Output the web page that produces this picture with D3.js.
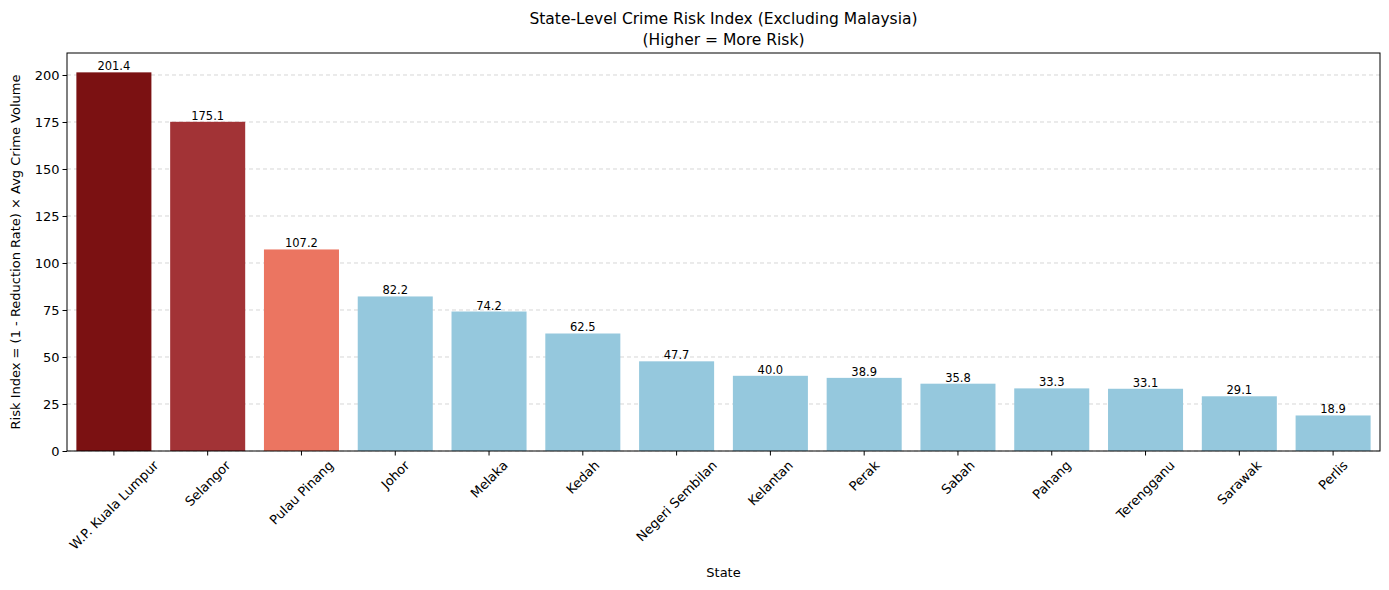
<!DOCTYPE html>
<html><head><meta charset="utf-8">
<script src="https://cdn.jsdelivr.net/npm/d3@7"></script>
<style>body{margin:0;background:#fff}text{font-family:"DejaVu Sans",sans-serif}</style>
</head><body><svg id="chart"></svg>
<script>
const states = ["W.P. Kuala Lumpur","Selangor","Pulau Pinang","Johor","Melaka","Kedah","Negeri Sembilan","Kelantan","Perak","Sabah","Pahang","Terengganu","Sarawak","Perlis"];
const riskIndex = [201.4,175.1,107.2,82.2,74.2,62.5,47.7,40.0,38.9,35.8,33.3,33.1,29.1,18.9];
const barColors = ["#7b1112","#a23336","#eb7561","#95c8dd","#95c8dd","#95c8dd","#95c8dd","#95c8dd","#95c8dd","#95c8dd","#95c8dd","#95c8dd","#95c8dd","#95c8dd"];
const yTicks = [0,25,50,75,100,125,150,175,200];

const width = 1389, height = 590;
const m = { left: 67, right: 9, top: 53, bottom: 139 };
const svg = d3.select("#chart").attr("width", width).attr("height", height);
const x = d3.scaleBand().domain(states).range([m.left, width - m.right]).paddingInner(0.2).paddingOuter(0.1);
const y = d3.scaleLinear().domain([0, 211.7]).range([height - m.bottom, m.top]);

// grid
svg.append("g").selectAll("line").data(yTicks).enter().append("line")
  .attr("x1", m.left).attr("x2", width - m.right)
  .attr("y1", d => y(d)).attr("y2", d => y(d))
  .attr("stroke", "#b0b0b0").attr("stroke-opacity", 0.5).attr("stroke-dasharray", "4,3");

// bars
svg.append("g").selectAll("rect").data(states).enter().append("rect")
  .attr("x", d => x(d)).attr("width", x.bandwidth())
  .attr("y", (d, i) => y(riskIndex[i])).attr("height", (d, i) => y(0) - y(riskIndex[i]))
  .attr("fill", (d, i) => barColors[i]);

svg.append("g").selectAll("text").data(states).enter().append("text")
  .attr("x", d => x(d) + x.bandwidth() / 2).attr("y", (d, i) => y(riskIndex[i]) - 2)
  .attr("text-anchor", "middle").attr("font-size", 11.5)
  .text((d, i) => riskIndex[i].toFixed(1));

// axes
const yAxis = svg.append("g").attr("transform", `translate(${m.left},0)`)
  .call(d3.axisLeft(y).tickValues(yTicks).tickSize(4.5).tickPadding(3));
yAxis.selectAll("text").attr("font-size", 13).attr("fill", "#000").style("font-family", "DejaVu Sans");
const xAxis = svg.append("g").attr("transform", `translate(0,${height - m.bottom})`)
  .call(d3.axisBottom(x).tickSize(4.5));
xAxis.selectAll("text").attr("font-size", 13).attr("fill", "#000").style("font-family", "DejaVu Sans")
  .attr("text-anchor", "middle").attr("y", 0).attr("dy", "0.35em")
  .attr("transform", function () {
    const half = this.getComputedTextLength() / 2 * Math.SQRT1_2 + 5;
    return `translate(0,${7 + half}) rotate(-45)`;
  });
svg.selectAll(".domain").remove();
svg.append("rect").attr("x", m.left).attr("y", m.top)
  .attr("width", width - m.left - m.right).attr("height", height - m.top - m.bottom)
  .attr("fill", "none").attr("stroke", "#000").attr("stroke-width", 1);

// labels
svg.append("text").attr("x", (m.left + width - m.right) / 2).attr("y", 24)
  .attr("text-anchor", "middle").attr("font-size", 15.5).text("State-Level Crime Risk Index (Excluding Malaysia)");
svg.append("text").attr("x", (m.left + width - m.right) / 2).attr("y", 45)
  .attr("text-anchor", "middle").attr("font-size", 15.5).text("(Higher = More Risk)");
svg.append("text").attr("x", (m.left + width - m.right) / 2).attr("y", 577)
  .attr("text-anchor", "middle").attr("font-size", 13).text("State");
svg.append("text").attr("transform", `translate(20,${(m.top + height - m.bottom) / 2}) rotate(-90)`)
  .attr("text-anchor", "middle").attr("font-size", 13).text("Risk Index = (1 - Reduction Rate) × Avg Crime Volume");
</script></body></html>
